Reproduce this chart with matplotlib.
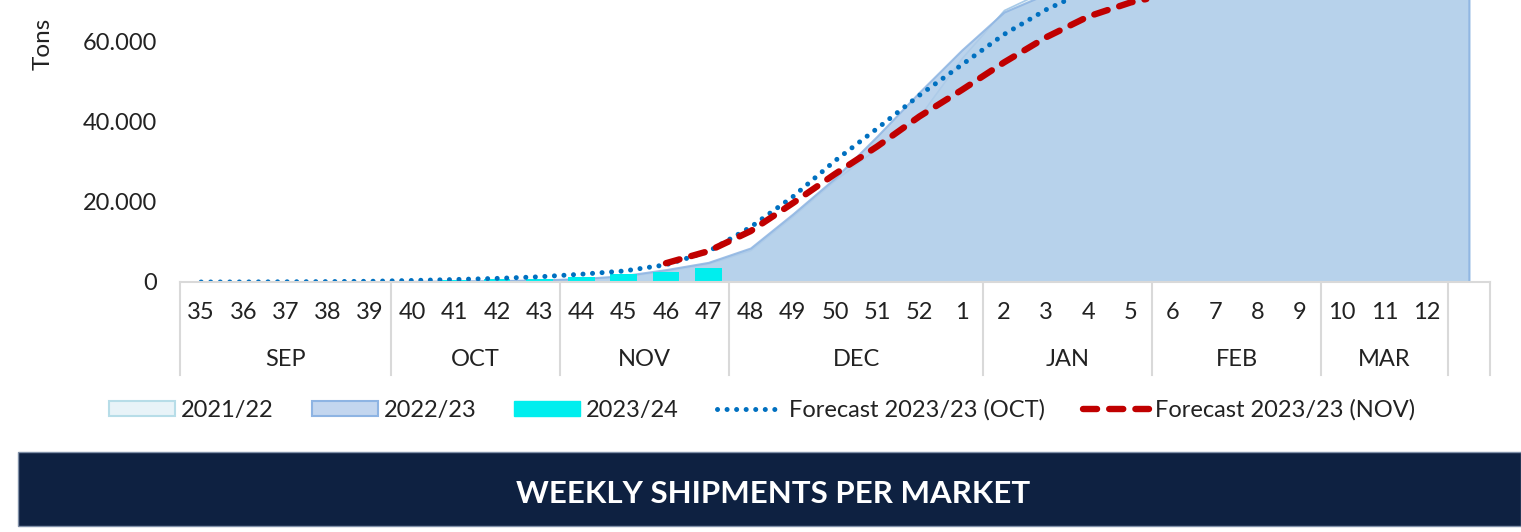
import numpy as np
import matplotlib
matplotlib.use("Agg")
import matplotlib.pyplot as plt
from matplotlib.patches import Patch, Rectangle
from matplotlib.lines import Line2D
from matplotlib.ticker import FuncFormatter
import matplotlib.transforms as mtransforms

plt.rcParams['font.family'] = ['Lato', 'DejaVu Sans']

# ---------------- data ----------------
week_labels = ['35', '36', '37', '38', '39', '40', '41', '42', '43', '44', '45', '46', '47',
               '48', '49', '50', '51', '52', '1', '2', '3', '4', '5', '6', '7', '8', '9',
               '10', '11', '12', '']
month_labels = ['SEP', 'OCT', 'NOV', 'DEC', 'JAN', 'FEB', 'MAR', '']
month_sizes = [5, 4, 4, 6, 4, 4, 3, 1]

nan = np.nan
s2122 = [0, 0, 0, 50, 100, 150, 250, 350, 500, 750, 1400, 2800, 4600,
         8000, 16500, 25500, 33500, 41500, 56000, 68000, 73000, 76500, 79000, 81000,
         82500, 83500, 84300, 84800, 85200, 85500, 85700]
s2223 = [0, 0, 0, 50, 100, 150, 250, 350, 500, 850, 1600, 3100, 4900,
         8500, 17000, 26000, 36500, 47500, 58000, 67500, 72000, 75500, 78000, 80000,
         81500, 82500, 83300, 84000, 84500, 85000, 85300]
s2324 = [0, 0, 0, 0, 100, 200, 400, 650, 850, 1350, 1950, 2600, 3600,
         nan, nan, nan, nan, nan, nan, nan, nan, nan, nan, nan,
         nan, nan, nan, nan, nan, nan, nan]
fc_oct = [0, 20, 50, 100, 180, 380, 620, 900, 1300, 1950, 2750, 4300, 7600,
          13700, 21300, 30300, 38400, 46700, 54300, 61900, 68100, 73000, 77000, 80000,
          82000, 83500, 84500, 85200, 85700, 86000, 86200]
fc_nov = [nan, nan, nan, nan, nan, nan, nan, nan, nan, nan, nan, 4700, 7700,
          12700, 19700, 27000, 33900, 41400, 48000, 54900, 61200, 66400, 69900, 72200,
          74000, 75400, 76400, 77100, 77500, 77800, 78000]

labels = ['2021/22', '2022/23', '2023/24', 'Forecast 2023/23 (OCT)', 'Forecast 2023/23 (NOV)']

# ---------------- figure ----------------
W, H = 1521, 532
fig = plt.figure(figsize=(W / 100, H / 100), dpi=100)
fig.patch.set_facecolor('white')

ax = fig.add_axes([180 / W, 1 - 282 / H, 1310 / W, 282 / H])
x = np.arange(len(week_labels))

text_col = '#222222'
oct_style = dict(color='#0070C0', lw=3.6, linestyle=(0, (0.01, 1.9)), dash_capstyle='round')
nov_style = dict(color='#C00000', lw=4.6, linestyle=(0, (2.2, 1.9)), dash_capstyle='round')

ax.fill_between(x, 0, s2122, facecolor='#E9F4F8', edgecolor='#A9CBE8', linewidth=1.2, zorder=1)
ax.fill_between(x, 0, s2223, facecolor='#AFCCE9', alpha=0.85, edgecolor='#8DB4E2',
                linewidth=1.5, zorder=2)
ax.bar(x, s2324, width=0.63, color='#00EEEE', zorder=3)
ax.plot(x, fc_oct, zorder=4, **oct_style)
ax.plot(x, fc_nov, zorder=5, **nov_style)

ax.set_xlim(-0.5, len(week_labels) - 0.5)
ax.set_ylim(0, 282 * 250)

for sp in ['left', 'right', 'top']:
    ax.spines[sp].set_visible(False)
ax.spines['bottom'].set_color('#D9D9D9')
ax.spines['bottom'].set_linewidth(1.5)
ax.spines['bottom'].set_zorder(6)

ax.set_xticks(x)
ax.set_xticklabels(week_labels)
ax.tick_params(axis='x', length=0, pad=14.5, labelsize=17, colors=text_col)
ax.set_yticks([0, 20000, 40000, 60000])
ax.yaxis.set_major_formatter(FuncFormatter(lambda v, p: f"{int(v):,}".replace(',', '.')))
ax.tick_params(axis='y', length=0, pad=16.5, labelsize=17, colors=text_col)

blend = mtransforms.blended_transform_factory(ax.transData, ax.transAxes)
start = -0.5
bounds = [start]
for name, n in zip(month_labels, month_sizes):
    end = start + n
    ax.text((start + end) / 2, -78 / 282, name, transform=blend, ha='center', va='center',
            fontsize=17, color=text_col)
    bounds.append(end)
    start = end
for b in bounds:
    ax.plot([b, b], [0, -93 / 282], transform=blend, color='#D9D9D9', lw=1.5, clip_on=False)

fig.text(43 / W, 1 - 44 / H, 'Tons', rotation=90, ha='center', va='center',
         fontsize=17.5, color=text_col)

handles = [
    Patch(facecolor='#E8F3F8', edgecolor='#B7DDE8', linewidth=1.5),
    Patch(facecolor='#C3D6EF', edgecolor='#8EB4E3', linewidth=1.5),
    Patch(facecolor='#00EEEE', edgecolor='#00EEEE'),
    Line2D([], [], **oct_style),
    Line2D([], [], **nov_style),
]
fig.legend(handles, labels, loc='center', bbox_to_anchor=(762 / W, 1 - 410 / H), ncol=5,
           frameon=False, fontsize=17, handlelength=2.8, handletextpad=0.25,
           columnspacing=1.6, handleheight=0.65, labelcolor=text_col)

# banner
fig.patches.append(Rectangle((18 / W, 1 - 526 / H), (W - 18) / W, 74 / H,
                             transform=fig.transFigure, facecolor='#0E2141',
                             edgecolor='#8090A8', linewidth=1.0, zorder=0))
fig.text(773 / W, 1 - 494 / H, 'WEEKLY SHIPMENTS PER MARKET', ha='center', va='center',
         fontsize=22.5, fontweight='bold', color='white')

fig.savefig('out.png', dpi=100, facecolor='white')
